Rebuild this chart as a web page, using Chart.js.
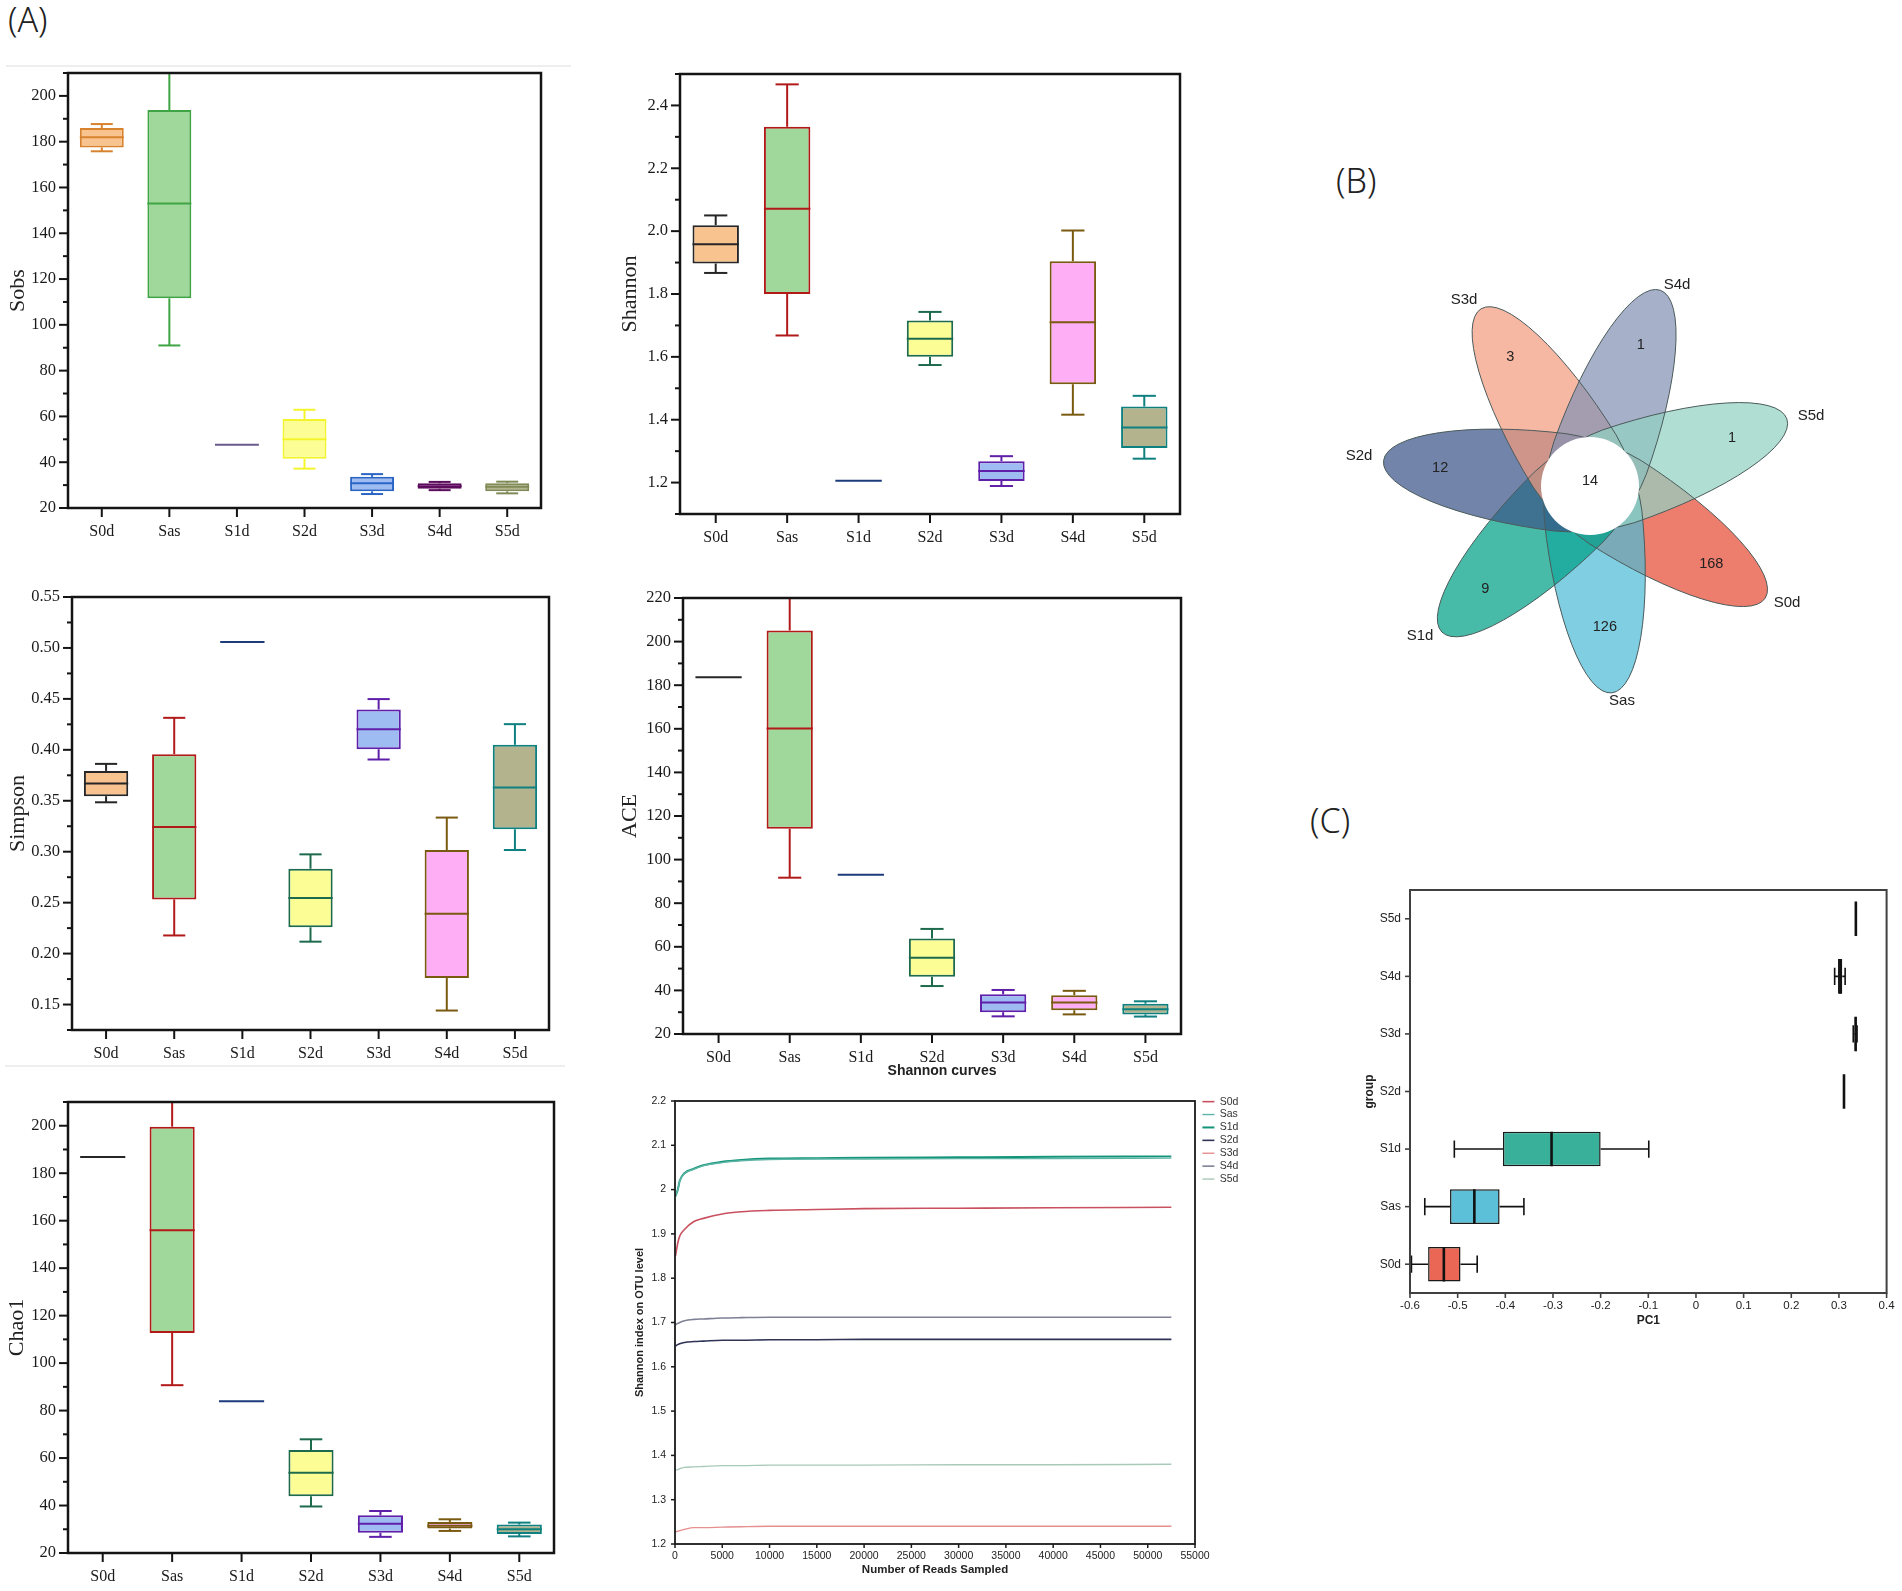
<!DOCTYPE html>
<html>
<head>
<meta charset="utf-8">
<title>Alpha diversity, Venn and PCA</title>
<script src="https://cdn.jsdelivr.net/npm/chart.js@4"></script>
<style>
  html, body { margin:0; padding:0; background:#fff; }
  body { width:1902px; height:1591px; position:relative; overflow:hidden; }
  canvas { position:absolute; }
  .tag { position:absolute; font:300 34px "Noto Sans", sans-serif; color:#222; line-height:1; }
  .rule { position:absolute; height:2px; background:#eeeeee; }
</style>
</head>
<body>
<div class="tag" style="left:8px;top:2px">(A)</div>
<div class="tag" style="left:1336px;top:163px">(B)</div>
<div class="tag" style="left:1310px;top:803px">(C)</div>
<div class="rule" style="left:6px;top:65px;width:565px"></div>
<div class="rule" style="left:5px;top:1065px;width:560px"></div>
<script>
const categories = ['S0d', 'Sas', 'S1d', 'S2d', 'S3d', 'S4d', 'S5d'];

// box panels: whisker low, q1, median, q3, whisker high
const sobsLow  = [175.8, 91, 47.6, 37.2, 26.1, 27.8, 26.4];
const sobsQ1   = [177.5, 111.6, 47.6, 41.5, 27.3, 28.4, 27.3];
const sobsMed  = [181.9, 153, 47.6, 50, 30.8, 29.5, 29.3];
const sobsQ3   = [186, 193.8, 47.6, 58.9, 33.6, 30.8, 30.8];
const sobsHigh = [187.7, 220, 47.6, 62.9, 34.8, 31.4, 31.5];

const shannonLow  = [1.867, 1.668, 1.206, 1.574, 1.189, 1.416, 1.276];
const shannonQ1   = [1.897, 1.8, 1.206, 1.6, 1.205, 1.513, 1.31];
const shannonMed  = [1.958, 2.071, 1.206, 1.658, 1.237, 1.71, 1.375];
const shannonQ3   = [2.019, 2.332, 1.206, 1.716, 1.268, 1.904, 1.442];
const shannonHigh = [2.05, 2.467, 1.206, 1.743, 1.284, 2.002, 1.476];

const simpsonLow  = [0.3485, 0.2178, 0.5058, 0.2117, 0.3905, 0.1441, 0.3017];
const simpsonQ1   = [0.3545, 0.2532, 0.5058, 0.2258, 0.4006, 0.176, 0.322];
const simpsonMed  = [0.3669, 0.3243, 0.5058, 0.2545, 0.4203, 0.2391, 0.363];
const simpsonQ3   = [0.3793, 0.3957, 0.5058, 0.2833, 0.4396, 0.3017, 0.4049];
const simpsonHigh = [0.3862, 0.4314, 0.5058, 0.2974, 0.4498, 0.3335, 0.4252];

const aceLow  = [183.6, 91.7, 93, 42, 28.1, 29, 28];
const aceQ1   = [183.6, 114.2, 93, 46.3, 30, 30.9, 29];
const aceMed  = [183.6, 160.1, 93, 55, 34.4, 34.4, 31.3];
const aceQ3   = [183.6, 205.1, 93, 63.8, 38.2, 37.8, 33.9];
const aceHigh = [183.6, 235, 93, 68.2, 40.2, 39.8, 35];

const chaoLow  = [186.8, 90.7, 83.9, 39.6, 26.8, 29.3, 27];
const chaoQ1   = [186.8, 112.7, 83.9, 43.9, 28.5, 30.3, 28];
const chaoMed  = [186.8, 156, 83.9, 53.8, 32.3, 31.5, 30];
const chaoQ3   = [186.8, 199.6, 83.9, 63.4, 35.9, 33.1, 32];
const chaoHigh = [186.8, 225, 83.9, 67.9, 37.7, 34.2, 32.8];

// rarefaction curves
const readCounts = [50, 300, 500, 1000, 2000, 3000, 5000, 7000, 10000, 15000, 20000, 30000, 40000, 52500];
const curveS0d = [1.85, 1.88, 1.895, 1.91, 1.928, 1.935, 1.945, 1.95, 1.953, 1.955, 1.957, 1.958, 1.959, 1.96];
const curveSas = [1.985, 2.0, 2.02, 2.036, 2.046, 2.054, 2.061, 2.065, 2.068, 2.069, 2.069, 2.07, 2.07, 2.071];
const curveS1d = [1.985, 2.0, 2.02, 2.037, 2.047, 2.055, 2.063, 2.067, 2.07, 2.071, 2.072, 2.073, 2.074, 2.075];
const curveS2d = [1.647, 1.65, 1.652, 1.655, 1.657, 1.658, 1.66, 1.66, 1.661, 1.661, 1.662, 1.662, 1.662, 1.662];
const curveS3d = [1.227, 1.229, 1.23, 1.233, 1.237, 1.237, 1.238, 1.239, 1.24, 1.24, 1.24, 1.24, 1.24, 1.24];
const curveS4d = [1.695, 1.698, 1.7, 1.704, 1.707, 1.708, 1.71, 1.711, 1.712, 1.712, 1.712, 1.712, 1.712, 1.712];
const curveS5d = [1.367, 1.368, 1.37, 1.373, 1.374, 1.375, 1.377, 1.377, 1.378, 1.378, 1.378, 1.379, 1.379, 1.38];

// PC1 boxes
const pcLow  = [-0.597, -0.569, -0.507, 0.3106, 0.33, 0.291, 0.3355];
const pcQ1   = [-0.562, -0.516, -0.405, 0.3106, 0.333, 0.298, 0.3355];
const pcMed  = [-0.529, -0.465, -0.303, 0.3106, 0.335, 0.303, 0.3355];
const pcQ3   = [-0.494, -0.412, -0.2, 0.3106, 0.337, 0.307, 0.3355];
const pcHigh = [-0.459, -0.361, -0.099, 0.3106, 0.338, 0.313, 0.3355];

// flower diagram
const petalNames  = ['S0d', 'Sas', 'S1d', 'S2d', 'S3d', 'S4d', 'S5d'];
const petalCounts = [168, 126, 9, 12, 3, 1, 1];
const coreCount   = 14;

// styles
const boxFills = ['#f9c390', '#a0d79a', '#ffffff', '#fdfd96', '#9fbcf2', '#fdaef5', '#b3b38d'];
const sobsEdges = ['#d9822e', '#3fa544', '#6b5a8c', '#f4f42c', '#2a65c6', '#5c0b5c', '#7f8a56'];
const darkEdges = ['#262626', '#b21a1a', '#1b3b7c', '#1d6a4c', '#5f1fa8', '#7a5a10', '#0f8080'];
const pcFills = ['#ea6655', '#5cc0d8', '#38b09a', '#3c5488', '#f39b7f', '#8491b4', '#91d1c2'];
const petalColors = ['#e64b35', '#4dbbd5', '#00a087', '#3c5488', '#f39b7f', '#8491b4', '#91d1c2'];
const petalAngles = [32.6, 84, 135.4, -173, -121.6, -70.2, -18.8];
const petalCountRadius = [144, 142, 147, 151, 152, 150, 150];
const petalNameOffset = [[197, 117], [32, 215], [-170, 150], [-231, -30], [-126, -186], [87, -201], [221, -70]];

function addCanvas(left, top, w, h) {
  const c = document.createElement('canvas');
  c.width = w; c.height = h;
  c.style.left = left + 'px'; c.style.top = top + 'px';
  c.style.width = w + 'px'; c.style.height = h + 'px';
  document.body.appendChild(c);
  return c.getContext('2d');
}

// frame round the plot area, long ticks for labelled values and short ones for the rest
const axisFrame = {
  id: 'axisFrame',
  afterDraw(chart, args, o) {
    const {ctx, chartArea: a} = chart;
    ctx.save();
    ctx.strokeStyle = o.color;
    ctx.lineWidth = o.tickWidth;
    Object.values(chart.scales).forEach(s => {
      if (!s.options.display) return;
      s.ticks.forEach((t, i) => {
        const p = s.getPixelForTick(i);
        const len = t.label === '' ? o.minorLen : o.majorLen;
        ctx.beginPath();
        if (s.axis === 'x') { ctx.moveTo(p, a.bottom); ctx.lineTo(p, a.bottom + len); }
        else { ctx.moveTo(a.left, p); ctx.lineTo(a.left - len, p); }
        ctx.stroke();
      });
    });
    ctx.lineWidth = o.width;
    ctx.strokeRect(a.left, a.top, a.right - a.left, a.bottom - a.top);
    ctx.restore();
  }
};

// whiskers, caps and median on top of the floating bars
const boxParts = {
  id: 'boxParts',
  afterDatasetsDraw(chart, args, o) {
    const {ctx, chartArea: a} = chart;
    const flat = chart.options.indexAxis === 'y';
    const val = flat ? chart.scales.x : chart.scales.y;
    const bars = chart.getDatasetMeta(0).data;
    const seg = (v0, c0, v1, c1) => {
      ctx.beginPath();
      if (flat) { ctx.moveTo(v0, c0); ctx.lineTo(v1, c1); }
      else { ctx.moveTo(c0, v0); ctx.lineTo(c1, v1); }
      ctx.stroke();
    };
    ctx.save();
    ctx.beginPath();
    ctx.rect(a.left, a.top, a.right - a.left, a.bottom - a.top);
    ctx.clip();
    bars.forEach((bar, i) => {
      const c = flat ? bar.y : bar.x;
      const half = (flat ? bar.height : bar.width) / 2;
      const edge = o.edges ? o.edges[i] : o.color;
      ctx.strokeStyle = edge;
      if (o.q1[i] !== o.q3[i]) {
        ctx.lineWidth = o.whiskerWidth;
        const lo = val.getPixelForValue(o.low[i]), hi = val.getPixelForValue(o.high[i]);
        seg(lo, c, val.getPixelForValue(o.q1[i]), c);
        seg(hi, c, val.getPixelForValue(o.q3[i]), c);
        seg(lo, c - half / 2, lo, c + half / 2);
        seg(hi, c - half / 2, hi, c + half / 2);
      }
      ctx.lineWidth = o.medianWidth;
      const m = val.getPixelForValue(o.med[i]);
      seg(m, c - half, m, c + half);
    });
    ctx.restore();
  }
};

function boxChart(place, yTitle, titleGap, range, low, q1, med, q3, high, edges) {
  const padL = 66, padB = 44, padT = 14, padR = 14;
  const ctx = addCanvas(place.left - padL, place.top - padT,
    place.right - place.left + padL + padR, place.bottom - place.top + padT + padB);
  const serif = 'Liberation Serif';
  new Chart(ctx, {
    type: 'bar',
    data: {
      labels: categories,
      datasets: [{
        data: q1.map((v, i) => [v, q3[i]]),
        backgroundColor: boxFills,
        borderColor: edges,
        borderWidth: 2,
        borderSkipped: false,
        barPercentage: 0.65,
        categoryPercentage: 1
      }]
    },
    plugins: [boxParts, axisFrame],
    options: {
      responsive: false,
      animation: false,
      layout: { padding: { top: padT, right: padR } },
      plugins: {
        legend: { display: false },
        tooltip: { enabled: false },
        boxParts: { low, q1, med, q3, high, edges, whiskerWidth: 2, medianWidth: 2 },
        axisFrame: { color: '#141414', width: 2.5, tickWidth: 2, majorLen: 9, minorLen: 5 }
      },
      scales: {
        x: {
          grid: { display: false, tickLength: 9 },
          border: { display: false },
          ticks: { color: '#1a1a1a', padding: 5, maxRotation: 0, autoSkip: false, font: { family: serif, size: 16 } },
          afterFit: s => { s.height = padB; }
        },
        y: {
          min: range.min, max: range.max,
          grid: { display: false, tickLength: 9 },
          border: { display: false },
          title: { display: true, text: yTitle, color: '#222', padding: { top: padL - titleGap - 11, bottom: 0 },
            font: { family: serif, size: 22, lineHeight: 1 } },
          ticks: {
            stepSize: range.step, color: '#1a1a1a', padding: 3, autoSkip: false,
            font: { family: serif, size: 16.5 },
            callback: v => Math.abs(v / range.major - Math.round(v / range.major)) < 1e-6 ? v.toFixed(range.digits) : ''
          },
          afterFit: s => { s.width = padL; }
        }
      }
    }
  });
}

boxChart({left: 68, right: 541, top: 73, bottom: 508}, 'Sobs', 50,
  {min: 20, max: 210, step: 10, major: 20, digits: 0}, sobsLow, sobsQ1, sobsMed, sobsQ3, sobsHigh, sobsEdges);
boxChart({left: 680, right: 1180, top: 74, bottom: 514}, 'Shannon', 50,
  {min: 1.1, max: 2.5, step: 0.1, major: 0.2, digits: 1}, shannonLow, shannonQ1, shannonMed, shannonQ3, shannonHigh, darkEdges);
boxChart({left: 72, right: 549, top: 597, bottom: 1030}, 'Simpson', 54,
  {min: 0.125, max: 0.55, step: 0.025, major: 0.05, digits: 2}, simpsonLow, simpsonQ1, simpsonMed, simpsonQ3, simpsonHigh, darkEdges);
boxChart({left: 683, right: 1181, top: 598, bottom: 1034}, 'ACE', 53,
  {min: 20, max: 220, step: 10, major: 20, digits: 0}, aceLow, aceQ1, aceMed, aceQ3, aceHigh, darkEdges);
boxChart({left: 68, right: 554, top: 1102, bottom: 1553}, 'Chao1', 51,
  {min: 20, max: 210, step: 10, major: 20, digits: 0}, chaoLow, chaoQ1, chaoMed, chaoQ3, chaoHigh, darkEdges);

// rarefaction curves
const curveSeries = [curveS0d, curveSas, curveS1d, curveS2d, curveS3d, curveS4d, curveS5d];
const curveColors = ['#c8505f', '#5db5a5', '#14957a', '#2f3355', '#e58f8f', '#7e8095', '#a9c9b9'];
const curveWidths = [1.6, 1.4, 2, 1.6, 1.4, 1.6, 1.4];
const nudgeLegend = {
  id: 'nudgeLegend',
  afterLayout(chart) {
    chart.legend.left += 5;
    chart.legend.right += 35;
    chart.legend.top += 34;
    chart.titleBlock.left += 17;
    chart.titleBlock.right += 17;
  }
};
new Chart(addCanvas(625, 1060, 635, 524), {
  type: 'scatter',
  data: {
    datasets: curveSeries.map((s, k) => ({
      label: categories[k],
      data: readCounts.map((x, i) => ({x, y: s[i]})),
      showLine: true,
      cubicInterpolationMode: 'monotone',
      borderColor: curveColors[k],
      backgroundColor: curveColors[k],
      borderWidth: curveWidths[k],
      pointRadius: 0,
      pointStyle: 'line'
    }))
  },
  plugins: [nudgeLegend, axisFrame],
  options: {
    responsive: false,
    animation: false,
    layout: { padding: { right: 35 } },
    plugins: {
      tooltip: { enabled: false },
      title: { display: true, text: 'Shannon curves', color: '#222', padding: { top: 4, bottom: 23 },
        font: { family: 'Liberation Sans', size: 14, weight: 'bold', lineHeight: 1 } },
      legend: {
        position: 'right', align: 'start', maxWidth: 30,
        labels: { usePointStyle: true, pointStyleWidth: 12, padding: 2.4, color: '#333',
          font: { family: 'Liberation Sans', size: 10.5 } }
      },
      axisFrame: { color: '#1a1a1a', width: 1.8, tickWidth: 1.5, majorLen: 4, minorLen: 4 }
    },
    scales: {
      x: {
        min: 0, max: 55000,
        grid: { display: false, tickLength: 4 },
        border: { display: false },
        title: { display: true, text: 'Number of Reads Sampled', color: '#222', padding: { top: 0, bottom: 8 },
          font: { family: 'Liberation Sans', size: 11.5, weight: 'bold', lineHeight: 1 } },
        ticks: { stepSize: 5000, color: '#222', padding: 2, maxRotation: 0, autoSkip: false,
          font: { family: 'Liberation Sans', size: 10.5 }, callback: v => String(v) },
        afterFit: s => { s.height = 40; }
      },
      y: {
        min: 1.2, max: 2.2,
        grid: { display: false, tickLength: 4 },
        border: { display: false },
        title: { display: true, text: 'Shannon index on OTU level', color: '#222', padding: { top: 9.5, bottom: 0 },
          font: { family: 'Liberation Sans', size: 11, weight: 'bold', lineHeight: 1 } },
        ticks: { stepSize: 0.1, color: '#222', padding: 5, autoSkip: false,
          font: { family: 'Liberation Sans', size: 10.5 }, callback: v => String(+v.toFixed(1)) },
        afterFit: s => { s.width = 50; }
      }
    }
  }
});

// flower diagram, one scale unit is one pixel from the flower centre
const flower = {
  id: 'flower',
  afterDatasetsDraw(chart) {
    const {ctx, scales: {x, y}} = chart;
    const unit = x.getPixelForValue(1) - x.getPixelForValue(0);
    // egg shape: long half out to the tip, short half hidden under the white disc
    const petal = (t) => {
      const cx = x.getPixelForValue(30 * Math.cos(t)), cy = y.getPixelForValue(30 * Math.sin(t));
      ctx.beginPath();
      ctx.ellipse(cx, cy, 178 * unit, 49 * unit, t, -Math.PI / 2, Math.PI / 2);
      ctx.ellipse(cx, cy, 75 * unit, 49 * unit, t, Math.PI / 2, Math.PI * 1.5);
      ctx.closePath();
    };
    ctx.save();
    petalAngles.forEach((deg, i) => {
      petal(deg * Math.PI / 180);
      ctx.globalAlpha = 0.72;
      ctx.fillStyle = petalColors[i];
      ctx.fill();
    });
    ctx.globalAlpha = 1;
    ctx.strokeStyle = '#4a5a5a';
    ctx.lineWidth = 1;
    petalAngles.forEach(deg => {
      petal(deg * Math.PI / 180);
      ctx.stroke();
    });
    ctx.beginPath();
    ctx.arc(x.getPixelForValue(0), y.getPixelForValue(0), 49 * unit, 0, Math.PI * 2);
    ctx.fillStyle = '#fff';
    ctx.fill();
    ctx.fillStyle = '#222';
    ctx.textAlign = 'center';
    ctx.textBaseline = 'middle';
    ctx.font = '14.5px "Liberation Sans"';
    petalAngles.forEach((deg, i) => {
      const t = deg * Math.PI / 180, r = petalCountRadius[i];
      ctx.fillText(petalCounts[i], x.getPixelForValue(r * Math.cos(t)), y.getPixelForValue(r * Math.sin(t)));
    });
    ctx.fillText(coreCount, x.getPixelForValue(0), y.getPixelForValue(-5));
    ctx.font = '15px "Liberation Sans"';
    petalNames.forEach((name, i) => {
      ctx.fillText(name, x.getPixelForValue(petalNameOffset[i][0]), y.getPixelForValue(petalNameOffset[i][1]));
    });
    ctx.restore();
  }
};
new Chart(addCanvas(1330, 226, 520, 520), {
  type: 'scatter',
  data: { datasets: [{ data: [], pointRadius: 0 }] },
  plugins: [flower],
  options: {
    responsive: false,
    animation: false,
    plugins: { legend: { display: false }, tooltip: { enabled: false } },
    scales: {
      x: { display: false, min: -260, max: 260 },
      y: { display: false, min: -260, max: 260, reverse: true }
    }
  }
});

// PC1 boxes
new Chart(addCanvas(1350, 876, 550, 457), {
  type: 'bar',
  data: {
    labels: categories,
    datasets: [{
      data: pcQ1.map((v, i) => [v, pcQ3[i]]),
      backgroundColor: pcFills,
      borderColor: '#1a1a1a',
      borderWidth: 1.5,
      borderSkipped: false,
      barPercentage: 0.6,
      categoryPercentage: 1
    }]
  },
  plugins: [boxParts, axisFrame],
  options: {
    indexAxis: 'y',
    responsive: false,
    animation: false,
    layout: { padding: { top: 14, right: 13.4 } },
    plugins: {
      legend: { display: false },
      tooltip: { enabled: false },
      boxParts: { low: pcLow, q1: pcQ1, med: pcMed, q3: pcQ3, high: pcHigh, color: '#111', whiskerWidth: 1.6, medianWidth: 2.6 },
      axisFrame: { color: '#404040', width: 2, tickWidth: 1.6, majorLen: 5, minorLen: 5 }
    },
    scales: {
      x: {
        min: -0.6, max: 0.4,
        grid: { display: false, tickLength: 5 },
        border: { display: false },
        title: { display: true, text: 'PC1', color: '#222', padding: { top: 0, bottom: 6 },
          font: { family: 'Liberation Sans', size: 12, weight: 'bold', lineHeight: 1 } },
        ticks: { stepSize: 0.1, color: '#222', padding: 1, maxRotation: 0, autoSkip: false,
          font: { family: 'Liberation Sans', size: 11.5 }, callback: v => String(+v.toFixed(1)) },
        afterFit: s => { s.height = 40; }
      },
      y: {
        reverse: true,
        grid: { display: false, tickLength: 5 },
        border: { display: false },
        title: { display: true, text: 'group', color: '#222', padding: { top: 14, bottom: 0 },
          font: { family: 'Liberation Sans', size: 12, weight: 'bold', lineHeight: 1 } },
        ticks: { color: '#222', padding: 4, autoSkip: false, font: { family: 'Liberation Sans', size: 12 } },
        afterFit: s => { s.width = 60; }
      }
    }
  }
});
</script>
</body>
</html>
